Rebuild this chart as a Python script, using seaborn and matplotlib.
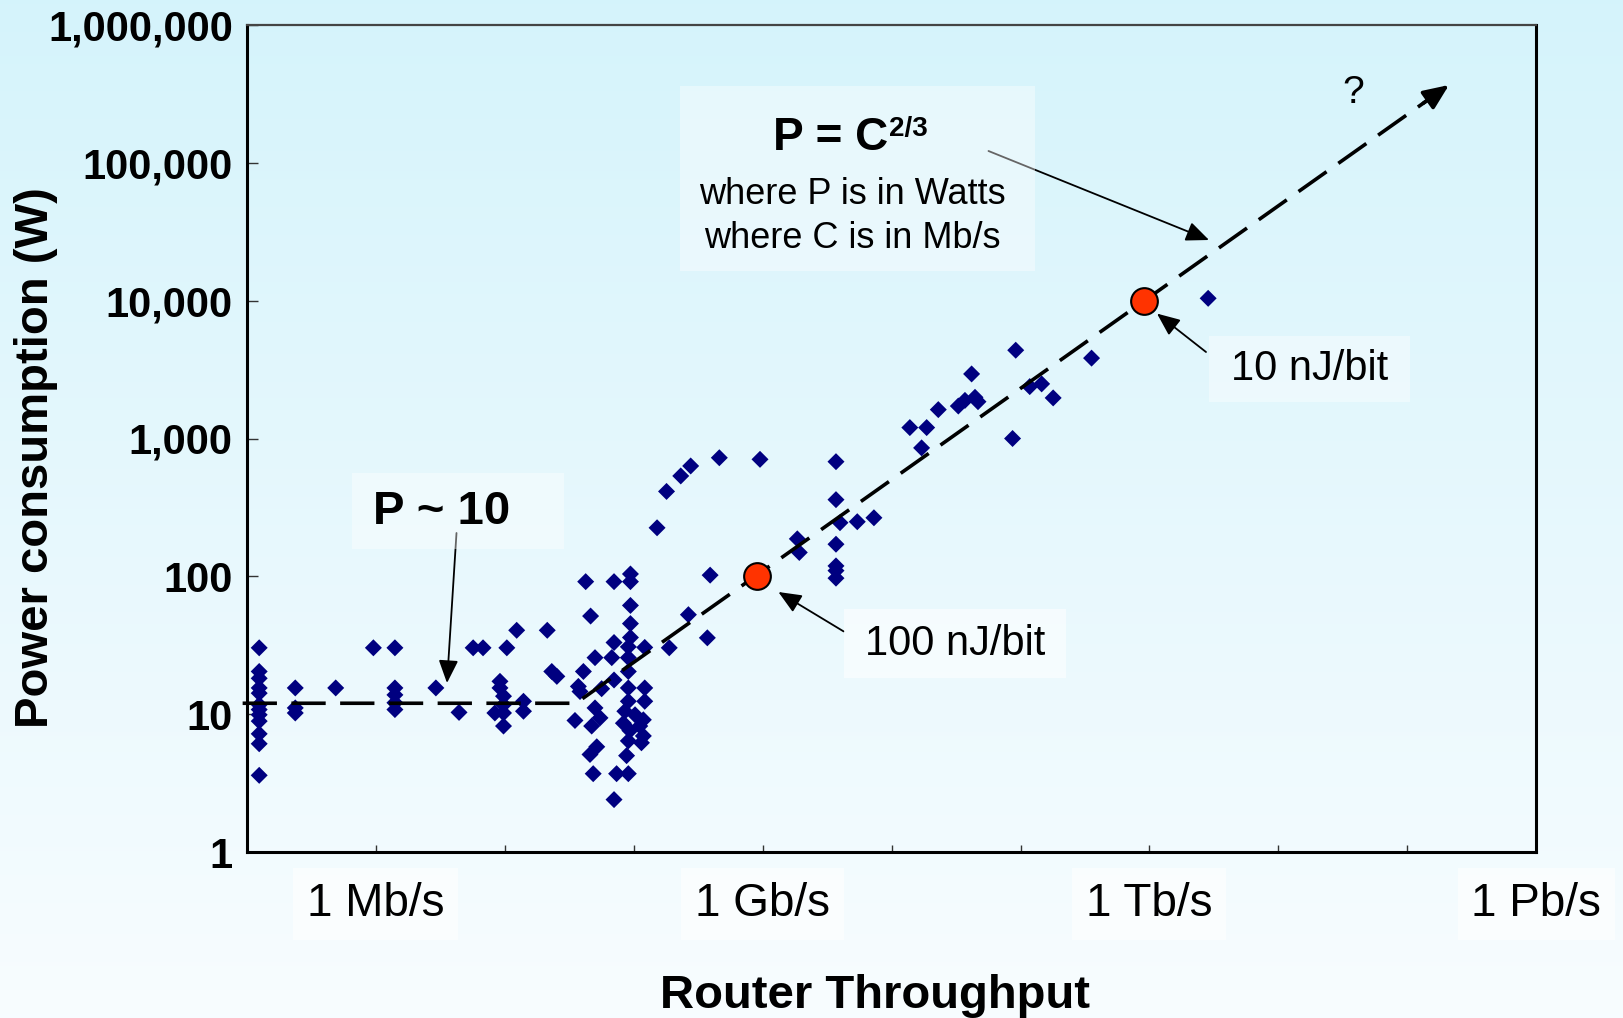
import numpy as np
import pandas as pd
import matplotlib
matplotlib.use("Agg")
import matplotlib.pyplot as plt
import seaborn as sns
from matplotlib.patches import Rectangle

# ---------------- data ----------------
router_throughput_mbps = [
    0.125, 0.125, 0.125, 0.125, 0.125, 0.125, 0.125, 0.125, 0.125, 0.125, 0.125, 0.125,
    0.238, 0.238, 0.238, 0.49, 0.96,
    1.41, 1.41, 1.41, 1.41, 1.41,
    2.93, 4.43, 5.7, 6.8, 10.4, 12.4, 21.4,
    9.2, 9.2, 9.8, 9.8, 9.8, 9.8, 8.4, 14.0, 14.0, 23.2, 25.4,
    42.5, 70.5, 94.5, 94.5, 94.5, 94.5, 94.5, 91.0, 91.0, 91.0, 91.0, 91.0,
    46.4, 70.5, 122, 189, 50.2, 67.7, 40.8, 70.5, 37.3, 38.4, 56.5, 122, 122,
    50.2, 35.1, 54.9, 47.3,
    85.5, 102.6, 119, 83.3, 111.6, 93.6, 119, 91.0, 115,
    51.8, 45.9, 88.2, 73.8, 91.0, 48.6, 70.5,
    152, 180, 232, 277, 462, 955,
    3708, 3708, 3983, 5423, 7300, 3708, 3708, 3708, 3708, 1859, 1926,
    392, 266, 373,
    13860, 18720, 17100, 23040, 32940, 37080, 44370, 46800, 41760,
    91800, 117900, 145800, 179100, 86760, 355500, 2850000,
]
router_power_w = [
    30.3, 20.4, 18.2, 15.5, 14.2, 11.7, 10.8, 9.9, 8.9, 7.2, 6.1, 3.6,
    15.5, 11.1, 10.2, 15.5, 30.3,
    30.3, 15.5, 13.8, 12.1, 10.8,
    15.5, 10.3, 30.3, 30.3, 30.3, 40.6, 40.6,
    17.3, 15.5, 13.5, 11.7, 10.2, 8.2, 10.2, 12.4, 10.5, 20.4, 18.8,
    91.5, 91.5, 104, 91.5, 61.5, 45.4, 36.0, 30.8, 25.7, 20.4, 15.5, 12.4,
    51.5, 33.1, 30.5, 30.3, 25.7, 25.7, 20.4, 17.7, 15.9, 14.6, 15.3, 15.5, 12.4,
    11.1, 9.0, 9.4, 8.2,
    10.5, 9.9, 9.1, 8.6, 8.2, 7.6, 6.95, 6.4, 6.2,
    5.8, 5.1, 5.0, 3.7, 3.7, 3.7, 2.4,
    225, 413, 535, 632, 725, 706,
    679, 360, 245, 249, 266, 171, 119, 110, 97, 187, 149,
    102, 52.7, 35.8,
    1200, 1200, 855, 1620, 1720, 1890, 1990, 1850, 2940,
    4370, 2380, 2490, 1970, 1000, 3830, 10400,
]

reference_throughput_mbps = [900, 9.0e5]
reference_power_w = [100, 1.0e4]
reference_labels = ["100 nJ/bit", "10 nJ/bit"]

trend_throughput_mbps = [0.093, 35.7, 2.1e8]
trend_power_w = [12, 12, 3.67e5]

y_ticks = [1, 10, 100, 1000, 10000, 100000, 1000000]
y_tick_labels = ["1", "10", "100", "1,000", "10,000", "100,000", "1,000,000"]
x_minor_decades = [1, 10, 100, 1e3, 1e4, 1e5, 1e6, 1e7, 1e8]
x_label_ticks = [1, 1e3, 1e6, 1e9]
x_tick_labels = ["1 Mb/s", "1 Gb/s", "1 Tb/s", "1 Pb/s"]

# ---------------- style ----------------
plt.rcParams['font.family'] = ['Liberation Sans', 'DejaVu Sans']

W, H = 1623, 1018
fig = plt.figure(figsize=(W / 100, H / 100), dpi=100)


def fx(x):
    return x / W


def fy(y):
    return 1 - y / H


# background gradient
bg = fig.add_axes([0, 0, 1, 1], zorder=-10)
top_c = np.array([0.835, 0.955, 0.985])
bot_c = np.array([0.972, 0.990, 1.0])
t = np.linspace(0, 1, 256)[:, None, None]
img = top_c[None, None, :] * (1 - t) + bot_c[None, None, :] * t
bg.imshow(img, aspect='auto', extent=[0, 1, 0, 1], origin='upper')
bg.set_axis_off()

L, R, T, B = 246.7, 1536.4, 25, 852
ax = fig.add_axes([fx(L), fy(B), (R - L) / W, (B - T) / H])
ax.set_facecolor('none')
ax.set_xscale('log')
ax.set_yscale('log')

df = pd.DataFrame({"throughput": router_throughput_mbps, "power": router_power_w})
sns.scatterplot(data=df, x="throughput", y="power", marker='D', s=75,
                color='#000080', edgecolor='none', linewidth=0, ax=ax,
                zorder=3, legend=False)

ax.plot(trend_throughput_mbps, trend_power_w, color='black', lw=2.6,
        dashes=(9.5, 4.0), zorder=4, clip_on=False)

# arrow head at the end of trend line
tip_c, tip_p = trend_throughput_mbps[-1], trend_power_w[-1]
slope = (np.log10(trend_power_w[-1]) - np.log10(trend_power_w[-2])) / \
        (np.log10(trend_throughput_mbps[-1]) - np.log10(trend_throughput_mbps[-2]))
back = 0.2
ax.annotate('', xy=(tip_c, tip_p),
            xytext=(tip_c * 10 ** -back, tip_p * 10 ** (-back * slope)),
            arrowprops=dict(arrowstyle='-|>,head_length=0.7,head_width=0.3',
                            color='black', lw=2.6, mutation_scale=22,
                            shrinkA=0, shrinkB=0), zorder=4)

ref = pd.DataFrame({"throughput": reference_throughput_mbps, "power": reference_power_w})
sns.scatterplot(data=ref, x="throughput", y="power", marker='o', s=370,
                color='#ff3300', edgecolor='black', linewidth=1.5, ax=ax,
                zorder=6, legend=False)

ax.set_xlim(0.1, 1e9)
ax.set_ylim(1, 1e6)
ax.minorticks_off()
ax.set_xticks(x_minor_decades)
ax.set_xticklabels([])
ax.set_yticks(y_ticks)
ax.set_yticklabels(y_tick_labels, fontsize=30, fontweight='bold')
ax.tick_params(axis='x', direction='in', length=5, width=1, color='#333333')
ax.tick_params(axis='y', direction='in', length=8, width=1, color='#333333', pad=10)

for side in ['left', 'bottom', 'right']:
    ax.spines[side].set_linewidth(2.2)
    ax.spines[side].set_color('black')
ax.spines['top'].set_linewidth(1.6)
ax.spines['top'].set_color('#444444')

for c, lab in zip(x_label_ticks, x_tick_labels):
    ax.text(c, -0.063, lab, transform=ax.get_xaxis_transform(), ha='center',
            va='center', fontsize=33, clip_on=False,
            bbox=dict(boxstyle='square,pad=0.3', fc='white', ec='none', alpha=0.6))

ax.set_xlabel('Router Throughput', fontsize=34, fontweight='bold')
ax.xaxis.set_label_coords((874.7 - L) / (R - L), (B - 996) / (B - T))
ax.xaxis.label.set_va('center')
ax.set_ylabel('Power consumption (W)', fontsize=34, fontweight='bold')
ax.yaxis.set_label_coords((36.2 - L) / (R - L), (B - 458) / (B - T))
ax.yaxis.label.set_va('center')


def box(x0, y0, x1, y1, alpha=0.4):
    fig.add_artist(Rectangle((fx(x0), fy(y1)), (x1 - x0) / W, (y1 - y0) / H,
                             transform=fig.transFigure, fc='white', ec='none',
                             alpha=alpha, zorder=1))


def arrow(x0, y0, x1, y1):
    ax.annotate('', xy=(fx(x1), fy(y1)), xycoords='figure fraction',
                xytext=(fx(x0), fy(y0)), textcoords='figure fraction',
                arrowprops=dict(arrowstyle='-|>,head_length=0.7,head_width=0.3',
                                color='black', lw=1.3, mutation_scale=20,
                                shrinkA=0, shrinkB=0), zorder=7)


# formula box
box(680, 86, 1035, 271)
fig.text(fx(888), fy(138), 'P = C', ha='right', va='center', fontsize=33,
         fontweight='bold')
fig.text(fx(889), fy(129), '2/3', ha='left', va='center', fontsize=20,
         fontweight='bold')
fig.text(fx(852), fy(195), 'where P is in Watts', ha='center', va='center', fontsize=26)
fig.text(fx(852), fy(239), 'where C is in Mb/s', ha='center', va='center', fontsize=26)
arrow(988.5, 151, 1209, 240)

# P ~ 10
box(352, 473, 564, 549)
fig.text(fx(441.5), fy(512), 'P ~ 10', ha='center', va='center', fontsize=34,
         fontweight='bold')
arrow(456.5, 533, 447, 683)

# energy per bit labels
box(1209, 336, 1410, 402)
fig.text(fx(1309.5), fy(368.5), reference_labels[1], ha='center', va='center', fontsize=30)
arrow(1206, 352, 1157, 313.6)

box(843.6, 608.6, 1066, 678, alpha=0.55)
fig.text(fx(955.4), fy(644), reference_labels[0], ha='center', va='center', fontsize=30)
arrow(843.6, 631.4, 778.4, 592)

fig.text(fx(1353), fy(93), '?', ha='center', va='center', fontsize=28)

fig.savefig('out.png', dpi=100)
